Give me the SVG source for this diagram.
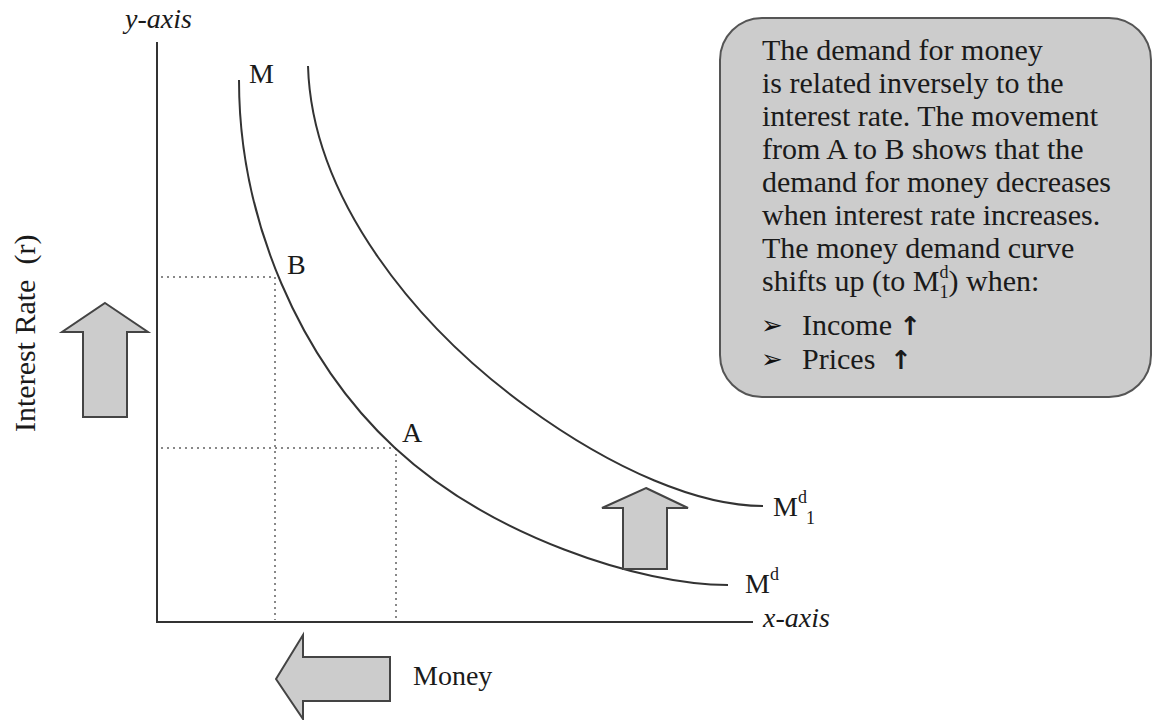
<svg xmlns="http://www.w3.org/2000/svg" width="1154" height="720" viewBox="0 0 1154 720">
<style>
.t{font-family:"Liberation Serif","Times New Roman",serif;fill:#1a1a1a;}
.lbl{font-size:28px;}
.it{font-style:italic;font-size:28px;}
.box{font-size:30px;}
.sm{font-size:18px;}
.bul{font-family:"DejaVu Sans",sans-serif;font-size:26px;fill:#111;}
.up{font-family:"DejaVu Sans",sans-serif;font-weight:bold;font-size:26px;}
.axis{stroke:#333;stroke-width:2;fill:none;}
.curve{stroke:#333;stroke-width:2;fill:none;}
.dot{stroke:#888;stroke-width:2;stroke-dasharray:2 4;fill:none;}
.arr{fill:#cccccc;stroke:#444;stroke-width:2;stroke-linejoin:miter;}
</style>
<rect width="1154" height="720" fill="#ffffff"/>
<g id="axes">
<path class="axis" d="M157 42 V622 H753"/>
<text class="t it" x="125" y="28">y-axis</text>
<text class="t it" x="763" y="627">x-axis</text>
<text class="t" font-size="30" xml:space="preserve" style="white-space:pre" transform="translate(35,432) rotate(-90)">Interest Rate  (r)</text>
</g>
<g id="guides">
<path class="dot" d="M161 277 H275 M275 277 V620 M161 448 H396 M396 448 V620"/>
</g>
<g id="curve-md">
<path class="curve" d="M239 80 C239 220 300 360 395 448 C490 536 640 585 728 585"/>
<text class="t lbl" x="249" y="83">M</text>
<text class="t lbl" x="745" y="593">M<tspan class="sm" dy="-13">d</tspan></text>
</g>
<g id="curve-md1">
<path class="curve" d="M308 66 C312 200 417 327 527 407 C615 471 700 506 763 506"/>
<text class="t lbl" x="773" y="516">M<tspan class="sm" dy="-13">d</tspan><tspan class="sm" dx="-1" dy="21">1</tspan></text>
</g>
<g id="point-b">
<text class="t lbl" x="287" y="274">B</text>
</g>
<g id="point-a">
<text class="t lbl" x="402" y="442">A</text>
</g>
<g id="arrow-rate-up">
<polygon class="arr" points="105,303 148,332 127,332 127,417 83,417 83,332 62,332"/>
</g>
<g id="arrow-shift-up">
<polygon class="arr" points="646,488 688,508 667,508 667,569 623,569 623,508 602,508"/>
</g>
<g id="arrow-money-left">
<polygon class="arr" points="276,679 303,635 303,657 390,657 390,701 303,701 303,719"/>
<text class="t" font-size="28" x="413" y="685">Money</text>
</g>
<g id="note">
<rect x="720" y="18" width="431" height="379" rx="42" ry="42" fill="#cccccc" stroke="#555" stroke-width="2"/>
<text class="t box" x="762" y="60">The demand for money</text>
<text class="t box" x="762" y="93">is related inversely to the</text>
<text class="t box" x="762" y="126">interest rate. The movement</text>
<text class="t box" x="762" y="159">from A to B shows that the</text>
<text class="t box" x="762" y="192">demand for money decreases</text>
<text class="t box" x="762" y="225">when interest rate increases.</text>
<text class="t box" x="762" y="258">The money demand curve</text>
<text class="t box" x="762" y="291">shifts up (to M<tspan class="sm" dy="-13">d</tspan><tspan class="sm" dx="-9" dy="20">1</tspan><tspan dy="-7">) when:</tspan></text>
<text class="bul" x="761" y="334">➢</text>
<text class="t box" x="802" y="335">Income <tspan class="up">↑</tspan></text>
<text class="bul" x="761" y="368">➢</text>
<text class="t box" x="802" y="369" xml:space="preserve" style="white-space:pre">Prices  <tspan class="up">↑</tspan></text>
</g>
</svg>
